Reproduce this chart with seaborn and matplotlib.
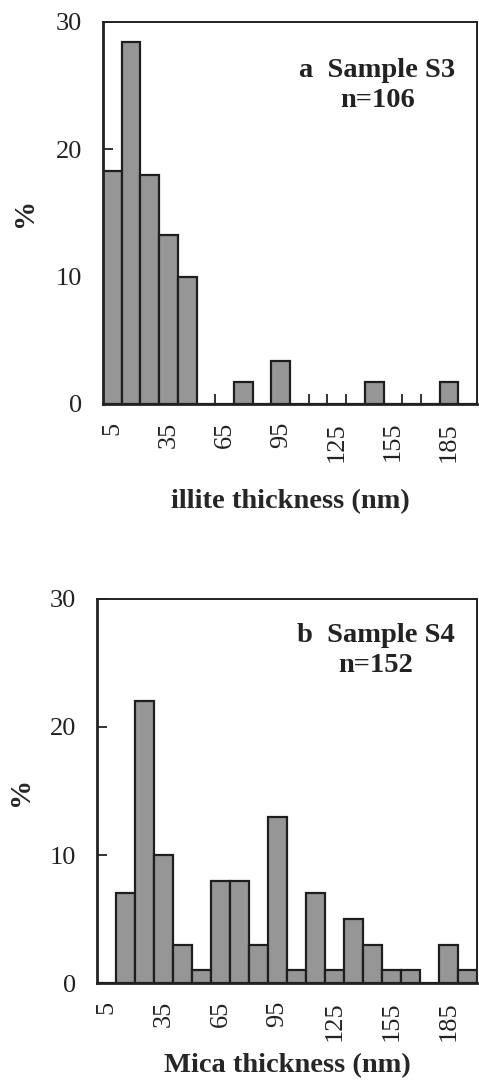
import numpy as np
import pandas as pd
import matplotlib
matplotlib.use("Agg")
import matplotlib.pyplot as plt
import seaborn as sns

# bin centres (nm), 10 nm wide bins
bins = [5, 15, 25, 35, 45, 55, 65, 75, 85, 95,
        105, 115, 125, 135, 145, 155, 165, 175, 185, 195]
tick_labels = ["5", "35", "65", "95", "125", "155", "185"]

# panel a: illite, sample S3 (percent)
illite_pct = [18.3, 28.4, 18.0, 13.3, 10.0, 0, 0, 1.7, 0, 3.4,
              0, 0, 0, 0, 1.7, 0, 0, 0, 1.7, 0]
# panel b: mica, sample S4 (percent)
mica_pct = [0, 7, 22, 10, 3, 1, 8, 8, 3, 13,
            1, 7, 1, 5, 3, 1, 1, 0, 3, 1]

sns.set_theme(style="white")
plt.rcParams['font.family'] = ['Liberation Serif', 'DejaVu Serif']
plt.rcParams['axes.edgecolor'] = '#222222'
plt.rcParams['text.color'] = '#222222'
plt.rcParams['xtick.color'] = '#222222'
plt.rcParams['ytick.color'] = '#222222'

fig = plt.figure(figsize=(4.79, 10.8), dpi=100)
ax_a = fig.add_axes([0.215, 0.626, 0.781, 0.3537])
ax_b = fig.add_axes([0.2025, 0.0898, 0.7935, 0.3556])

panels = [
    (ax_a, illite_pct, "a  Sample S3\nn=106", "illite thickness (nm)", 0.833, -0.272, -0.211),
    (ax_b, mica_pct, "b  Sample S4\nn=152", "Mica thickness (nm)", 0.865, -0.233, -0.202),
]

for ax, vals, note, xlab, note_y, xlab_y, ylab_x in panels:
    df = pd.DataFrame({"bin": bins, "pct": vals})
    sns.barplot(data=df, x="bin", y="pct", order=bins, color="#969696",
                saturation=1, edgecolor="#1e1e1e", linewidth=1.6,
                width=1.0, errorbar=None, ax=ax)
    ax.set_axisbelow(True)
    ax.set_xlim(-0.5, len(bins) - 0.5)
    ax.set_ylim(0, 30)
    ax.set_yticks([0, 10, 20, 30])
    ax.tick_params(axis='y', left=True, direction='in', length=7, width=1.3,
                   labelsize=19, pad=15)
    ax.set_xticks(range(0, 19, 3))
    ax.set_xticklabels(tick_labels, rotation=90, fontsize=19)
    ax.set_xticks(np.arange(0.5, len(bins) - 1, 1.0), minor=True)
    ax.tick_params(axis='x', which='major', bottom=True, length=0, pad=13)
    ax.tick_params(axis='x', which='minor', bottom=True, direction='in',
                   length=7, width=1.3)
    for lab in ax.get_xticklabels():
        lab.set_verticalalignment('top')
    for side in ['left', 'bottom']:
        ax.spines[side].set_linewidth(2.0)
    for side in ['top', 'right']:
        ax.spines[side].set_linewidth(1.4)
    ax.text(0.733, note_y, note, transform=ax.transAxes, ha='center',
            va='center', fontsize=20.5, fontweight='bold', linespacing=1.25)
    ax.set_xlabel(xlab, fontsize=20.5, fontweight='bold')
    ax.xaxis.label.set_verticalalignment('baseline')
    ax.xaxis.set_label_coords(0.5, xlab_y)
    ax.set_ylabel("%", fontsize=21, fontweight='bold')
    ax.yaxis.label.set_verticalalignment('center')
    ax.yaxis.set_label_coords(ylab_x, 0.5)

fig.savefig("out.png", dpi=100)
